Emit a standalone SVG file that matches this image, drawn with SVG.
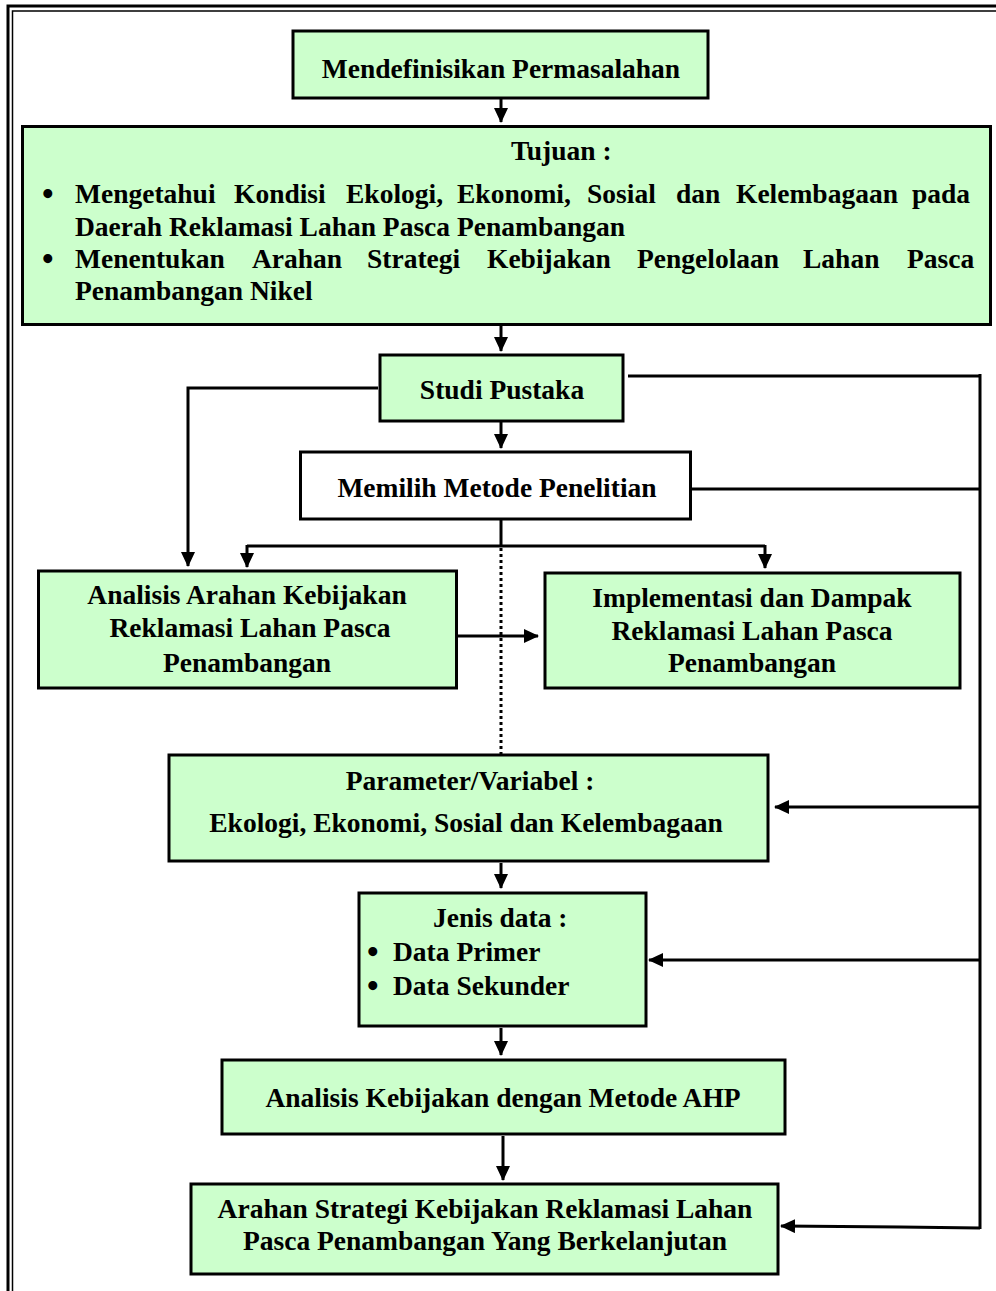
<svg xmlns="http://www.w3.org/2000/svg" width="996" height="1291" viewBox="0 0 996 1291">
<style>
.box{fill:#ccffcc;stroke:#000;stroke-width:3}
.wbox{fill:#fff;stroke:#000;stroke-width:3}
.t{font-family:"Liberation Serif","Times New Roman",serif;font-weight:bold;font-size:27.5px;fill:#000}
.b{font-size:33px}
.c{text-anchor:middle}
.ln{fill:none;stroke:#000;stroke-width:3}
.ar{fill:none;stroke:#000;stroke-width:3;marker-end:url(#ah)}
</style>
<defs>
<marker id="ah" markerUnits="userSpaceOnUse" markerWidth="15" markerHeight="14" refX="14" refY="7" orient="auto">
<path d="M0,0 L15,7 L0,14 z" fill="#000"/>
</marker>
</defs>
<rect width="996" height="1291" fill="#fff"/>
<g id="frame">
<path d="M8,1291 V6 H996" fill="none" stroke="#000" stroke-width="3"/>
<path d="M12.5,1291 V11 H996" fill="none" stroke="#000" stroke-width="1.5"/>
</g>
<g id="connectors">
<line class="ar" x1="501" y1="99" x2="501" y2="122"/>
<line class="ar" x1="501" y1="326" x2="501" y2="351"/>
<line class="ar" x1="501" y1="422" x2="501" y2="448"/>
<polyline class="ar" points="378,388 188,388 188,566"/>
<line class="ln" x1="501" y1="520" x2="501" y2="546"/>
<polyline class="ln" points="247,546 765,546"/>
<line class="ar" x1="247" y1="545" x2="247" y2="567"/>
<line class="ar" x1="765" y1="545" x2="765" y2="568"/>
<line x1="501" y1="548" x2="501" y2="754" stroke="#000" stroke-width="3" stroke-dasharray="3,3"/>
<line class="ar" x1="458" y1="636" x2="538" y2="636"/>
<line class="ln" x1="628" y1="376" x2="981" y2="376"/>
<line class="ln" x1="692" y1="489" x2="981" y2="489"/>
<line class="ln" x1="980" y1="374" x2="980" y2="1229"/>
<line class="ar" x1="980" y1="807" x2="775" y2="807"/>
<line class="ar" x1="980" y1="960" x2="649" y2="960"/>
<line class="ar" x1="501" y1="1028" x2="501" y2="1055"/>
<line class="ar" x1="501" y1="863" x2="501" y2="888"/>
<line class="ar" x1="503" y1="1136" x2="503" y2="1180"/>
<polyline class="ar" points="980,1228 900,1227 781,1226"/>
</g>
<g id="n1">
<rect class="box" x="293" y="31" width="415" height="67"/>
<text class="t c" x="501" y="78">Mendefinisikan Permasalahan</text>
</g>
<g id="n2">
<rect class="box" x="22.5" y="126.5" width="968" height="198"/>
<text class="t" x="511" y="160">Tujuan :</text>
<text class="t b" x="42" y="205">•</text>
<text class="t" y="203"><tspan x="75">Mengetahui</tspan><tspan x="234">Kondisi</tspan><tspan x="346">Ekologi,</tspan><tspan x="457">Ekonomi,</tspan><tspan x="587">Sosial</tspan><tspan x="676">dan</tspan><tspan x="736">Kelembagaan</tspan><tspan x="912">pada</tspan></text>
<text class="t" x="75" y="236">Daerah Reklamasi Lahan Pasca Penambangan</text>
<text class="t b" x="42" y="270">•</text>
<text class="t" y="268"><tspan x="75">Menentukan</tspan><tspan x="252">Arahan</tspan><tspan x="367">Strategi</tspan><tspan x="487">Kebijakan</tspan><tspan x="637">Pengelolaan</tspan><tspan x="803">Lahan</tspan><tspan x="907">Pasca</tspan></text>
<text class="t" x="75" y="300">Penambangan Nikel</text>
</g>
<g id="n3">
<rect class="box" x="380" y="355" width="243" height="66"/>
<text class="t c" x="502" y="399">Studi Pustaka</text>
</g>
<g id="n4">
<rect class="wbox" x="300.5" y="452" width="390" height="67"/>
<text class="t c" x="497" y="497">Memilih Metode Penelitian</text>
</g>
<g id="n5">
<rect class="box" x="38.5" y="571" width="418" height="117"/>
<text class="t c" x="247" y="604">Analisis Arahan Kebijakan</text>
<text class="t c" x="250" y="637">Reklamasi Lahan Pasca</text>
<text class="t c" x="247" y="672">Penambangan</text>
</g>
<g id="n6">
<rect class="box" x="545" y="573" width="415" height="115"/>
<text class="t c" x="752" y="607">Implementasi dan Dampak</text>
<text class="t c" x="752" y="640">Reklamasi Lahan Pasca</text>
<text class="t c" x="752" y="672">Penambangan</text>
</g>
<g id="n7">
<rect class="box" x="169" y="755" width="599" height="106"/>
<text class="t c" x="470" y="790">Parameter/Variabel :</text>
<text class="t c" x="466" y="832">Ekologi, Ekonomi, Sosial dan Kelembagaan</text>
</g>
<g id="n8">
<rect class="box" x="359" y="893" width="287" height="133"/>
<text class="t" x="433" y="927">Jenis data :</text>
<text class="t b" x="367" y="963">•</text>
<text class="t" x="393" y="961">Data Primer</text>
<text class="t b" x="367" y="997">•</text>
<text class="t" x="393" y="995">Data Sekunder</text>
</g>
<g id="n9">
<rect class="box" x="222" y="1060" width="563" height="74"/>
<text class="t c" x="503" y="1107">Analisis Kebijakan dengan Metode AHP</text>
</g>
<g id="n10">
<rect class="box" x="191" y="1184" width="587" height="90"/>
<text class="t c" x="485" y="1218">Arahan Strategi Kebijakan Reklamasi Lahan</text>
<text class="t c" x="485" y="1250">Pasca Penambangan Yang Berkelanjutan</text>
</g>
</svg>
